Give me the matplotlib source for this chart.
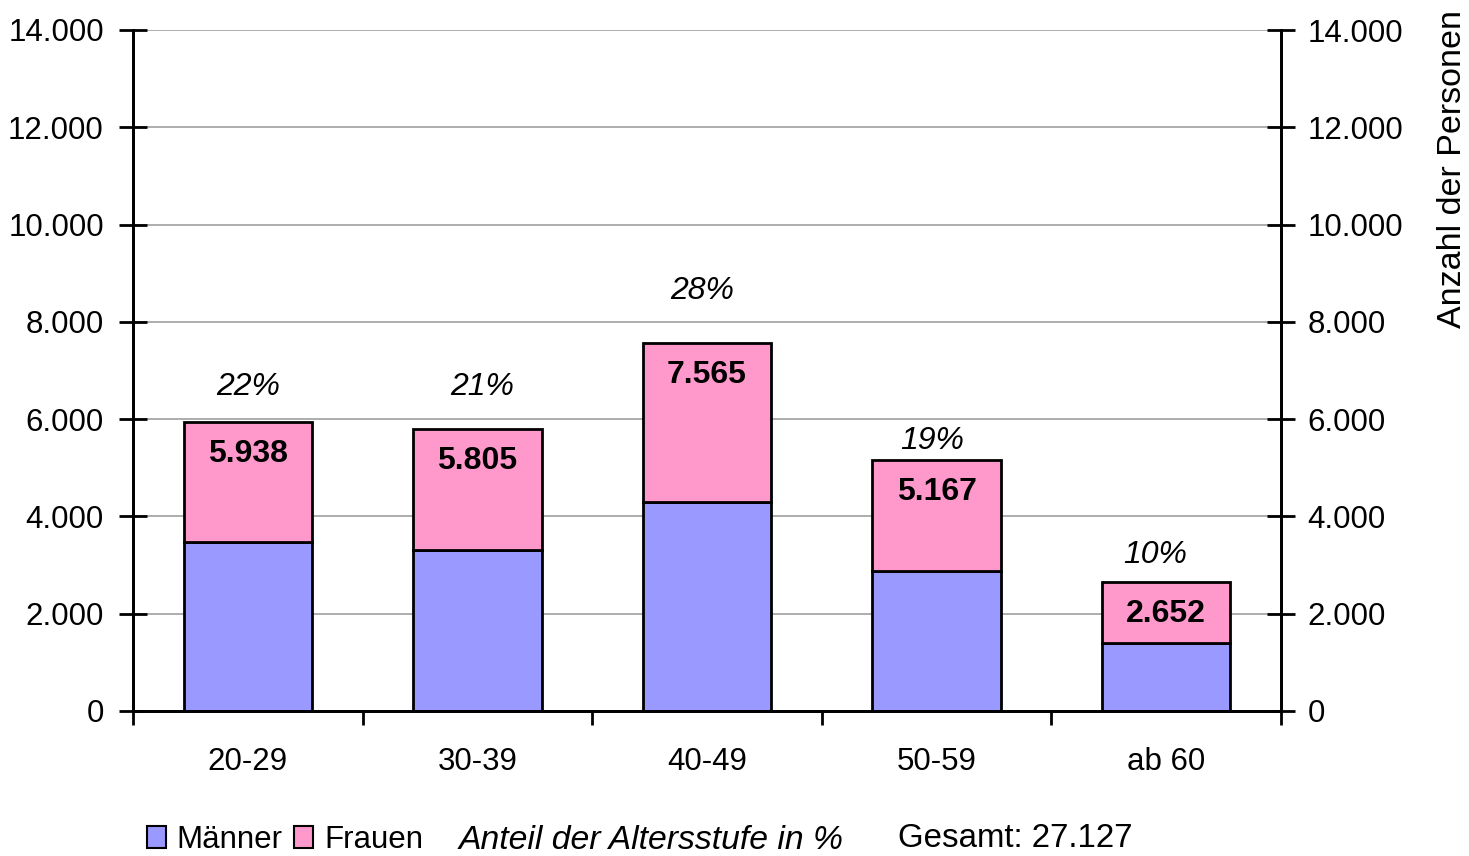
import numpy as np
import matplotlib.pyplot as plt
from matplotlib.patches import Patch

plt.rcParams['font.family'] = ['Liberation Sans', 'DejaVu Sans']

kategorien = ["20-29", "30-39", "40-49", "50-59", "ab 60"]
gesamt = [5938, 5805, 7565, 5167, 2652]
maenner = [3475, 3310, 4295, 2880, 1400]
frauen = [g - m for g, m in zip(gesamt, maenner)]
summe = 27127
anteil = [round(100 * g / summe) for g in gesamt]

# Höhe der Prozent-Beschriftung (wie im Original frei platziert)
anteil_y = [6660, 6660, 8630, 5550, 3210]
anteil_dx = [0.0, 0.02, -0.02, -0.02, -0.05]

c_m = "#9999ff"
c_f = "#ff99cc"

fig = plt.figure(figsize=(14.69, 8.56), dpi=100)
ax = fig.add_axes([133 / 1469, 1 - 711 / 856, (1281 - 133) / 1469, (711 - 30) / 856])

x = np.arange(len(kategorien))
w = 0.56
ax.bar(x, maenner, w, color=c_m, edgecolor="black", linewidth=2, zorder=3)
ax.bar(x, frauen, w, bottom=maenner, color=c_f, edgecolor="black", linewidth=2, zorder=3)

for i, g in enumerate(gesamt):
    txt = f"{g:,}".replace(",", ".")
    ax.annotate(txt, (x[i], g), xytext=(0, -23), textcoords="offset points",
                ha="center", va="center", fontsize=23, fontweight="bold", zorder=4)
    ax.text(x[i] + anteil_dx[i], anteil_y[i], f"{anteil[i]}%", ha="center", va="center",
            fontsize=23, style="italic")

ax.set_xlim(-0.5, len(kategorien) - 0.5)
ax.set_ylim(0, 14000)
yt = np.arange(0, 14001, 2000)
ylab = [f"{v:,}".replace(",", ".") for v in yt]
ax.set_yticks(yt)
ax.set_yticklabels(ylab, fontsize=22.5)
ax.yaxis.grid(True, color="#a0a0a0", linewidth=1.2, zorder=0)
ax.tick_params(axis="y", direction="inout", length=20, width=2, pad=11)

ax.set_xticks(x)
ax.set_xticklabels(kategorien, fontsize=22.5)
ax.set_xticks(np.arange(-0.5, len(kategorien)), minor=True)
ax.tick_params(axis="x", which="major", length=0, pad=26)
ax.tick_params(axis="x", which="minor", direction="out", length=10, width=2)

ax2 = ax.twinx()
ax2.set_ylim(0, 14000)
ax2.set_yticks(yt)
ax2.set_yticklabels(ylab, fontsize=22.5)
ax2.tick_params(axis="y", direction="inout", length=20, width=2, pad=9)

for a in (ax, ax2):
    a.spines["top"].set_visible(False)
    for s in ("left", "right", "bottom"):
        a.spines[s].set_linewidth(2)

fig.text(0.989, 0.803, "Anzahl der Personen", rotation=90, ha="center", va="center", fontsize=24.5)

handles = [Patch(facecolor=c_m, edgecolor="black", linewidth=1.5, label="Männer"),
           Patch(facecolor=c_f, edgecolor="black", linewidth=1.5, label="Frauen")]
fig.legend(handles=handles, loc="center left", bbox_to_anchor=(0.1, 0.019), ncol=2,
           frameon=False, fontsize=22.5, handlelength=0.6, handleheight=0.7,
           handletextpad=0.35, columnspacing=0.38, borderaxespad=0, borderpad=0)
fig.text(0.312, 0.018, "Anteil der Altersstufe in %", ha="left", va="center",
         fontsize=24.3, style="italic")
fig.text(0.611, 0.021, "Gesamt: " + f"{summe:,}".replace(",", "."), ha="left", va="center",
         fontsize=23.8)

fig.savefig("out.png", dpi=100)
